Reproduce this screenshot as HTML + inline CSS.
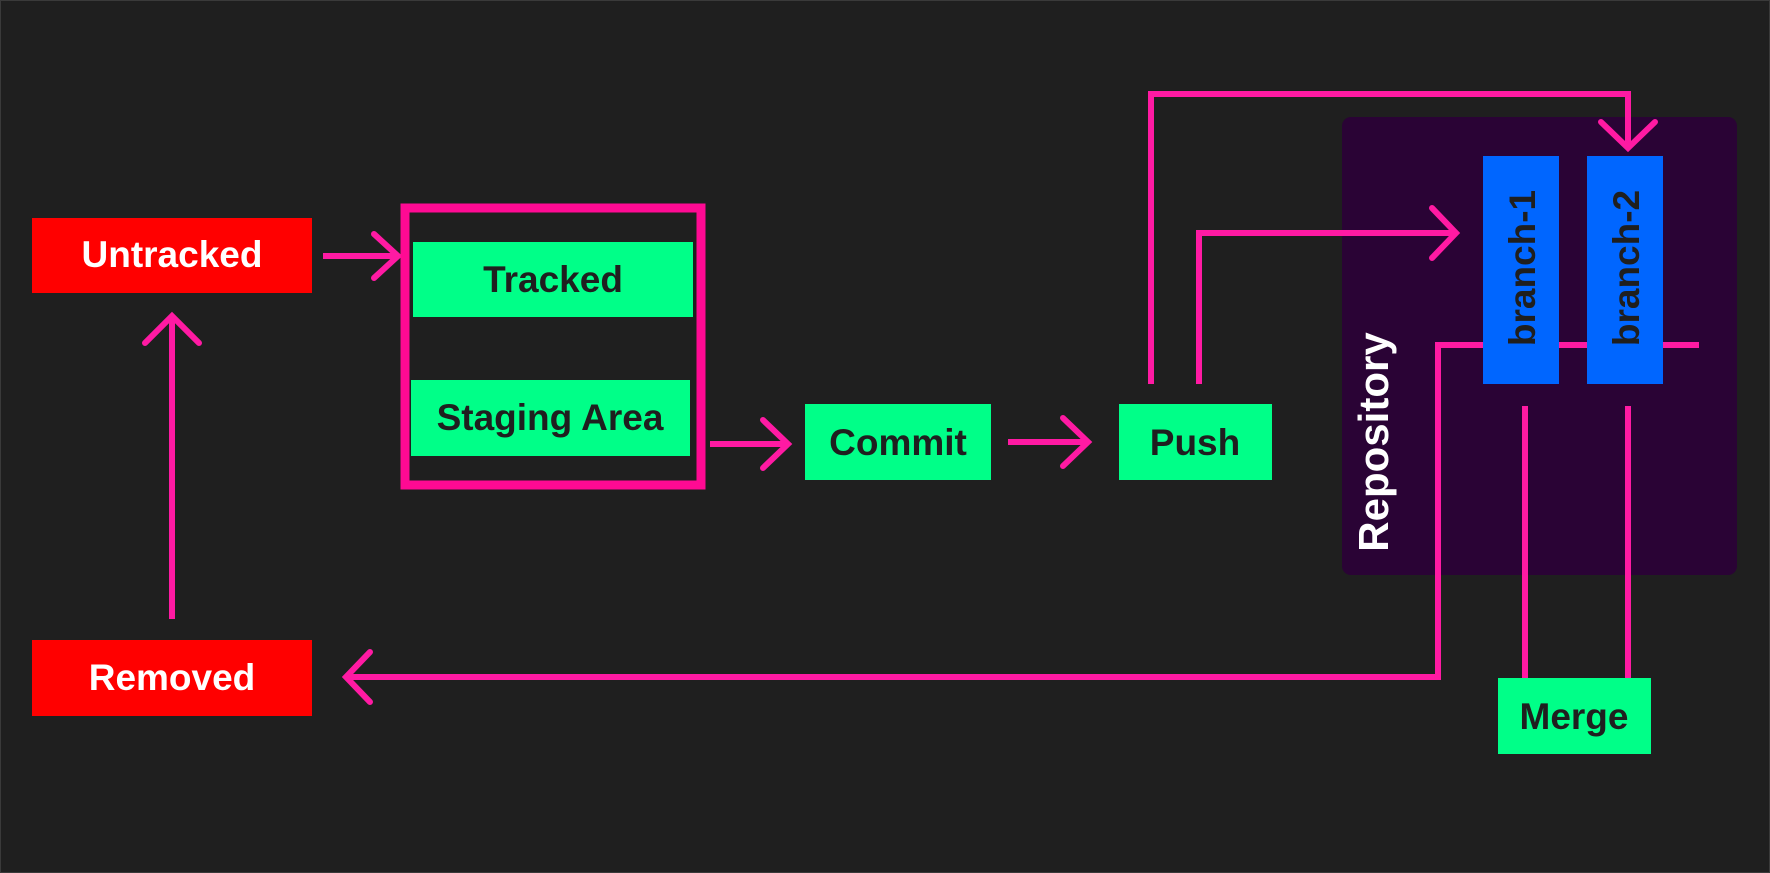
<!DOCTYPE html>
<html><head><meta charset="utf-8"><style>
html,body{margin:0;padding:0;background:#1f1f1f;}
svg{display:block;}
text{font-family:"Liberation Sans",sans-serif;font-weight:bold;}
</style></head><body>
<svg width="1770" height="873" viewBox="0 0 1770 873" xmlns="http://www.w3.org/2000/svg">
<rect x="0" y="0" width="1770" height="873" fill="#1f1f1f"/>
<rect x="0.5" y="0.5" width="1769" height="872" fill="none" stroke="#3a3a3a" stroke-width="1"/>
<rect x="1342" y="117" width="395" height="458" rx="9" fill="#2a0335"/>
<text x="0" y="0" transform="translate(1388,442) rotate(-90)" text-anchor="middle" fill="#fff" font-size="42">Repository</text>
<g stroke="#ff1aa3" stroke-width="6" fill="none" stroke-linecap="round" stroke-linejoin="miter">
<line x1="172" y1="619" x2="172" y2="316" stroke-linecap="butt"/>
<polyline points="145,343 172,316 199,343"/>
<line x1="323" y1="256" x2="398" y2="256" stroke-linecap="butt"/>
<polyline points="374,234 398,256 374,278"/>
<line x1="710" y1="444" x2="788" y2="444" stroke-linecap="butt"/>
<polyline points="763,420 788,444 763,468"/>
<line x1="1008" y1="442" x2="1088" y2="442" stroke-linecap="butt"/>
<polyline points="1063,418 1088,442 1063,466"/>
<polyline points="1151,384 1151,94 1628,94 1628,148" stroke-linecap="butt"/>
<polyline points="1601,122 1628,148 1655,122"/>
<polyline points="1199,384 1199,233 1456,233" stroke-linecap="butt"/>
<polyline points="1432,208 1456,233 1432,258"/>
<polyline points="1699,345 1438,345 1438,677 346,677" stroke-linecap="butt"/>
<polyline points="370,652 346,677 370,702"/>
<line x1="1525" y1="406" x2="1525" y2="678" stroke-linecap="butt"/>
<line x1="1628" y1="406" x2="1628" y2="678" stroke-linecap="butt"/>
</g>
<rect x="405" y="208" width="296" height="277" fill="none" stroke="#ff0a93" stroke-width="9"/>
<rect x="32" y="218" width="280" height="75" fill="#ff0000"/>
<text x="172" y="267" text-anchor="middle" fill="#fff" font-size="37">Untracked</text>
<rect x="32" y="640" width="280" height="76" fill="#ff0000"/>
<text x="172" y="690" text-anchor="middle" fill="#fff" font-size="37">Removed</text>
<rect x="413" y="242" width="280" height="75" fill="#00ff88"/>
<text x="553" y="292" text-anchor="middle" fill="#1f1f1f" font-size="37">Tracked</text>
<rect x="411" y="380" width="279" height="76" fill="#00ff88"/>
<text x="550" y="430" text-anchor="middle" fill="#1f1f1f" font-size="37">Staging Area</text>
<rect x="805" y="404" width="186" height="76" fill="#00ff88"/>
<text x="898" y="455" text-anchor="middle" fill="#1f1f1f" font-size="37">Commit</text>
<rect x="1119" y="404" width="153" height="76" fill="#00ff88"/>
<text x="1195" y="455" text-anchor="middle" fill="#1f1f1f" font-size="37">Push</text>
<rect x="1498" y="678" width="153" height="76" fill="#00ff88"/>
<text x="1574" y="729" text-anchor="middle" fill="#1f1f1f" font-size="37">Merge</text>
<rect x="1483" y="156" width="76" height="228" fill="#0066ff"/>
<text transform="translate(1535,268) rotate(-90)" text-anchor="middle" fill="#1f1f1f" font-size="37">branch-1</text>
<rect x="1587" y="156" width="76" height="228" fill="#0066ff"/>
<text transform="translate(1639,268) rotate(-90)" text-anchor="middle" fill="#1f1f1f" font-size="37">branch-2</text>
</svg>
</body></html>
